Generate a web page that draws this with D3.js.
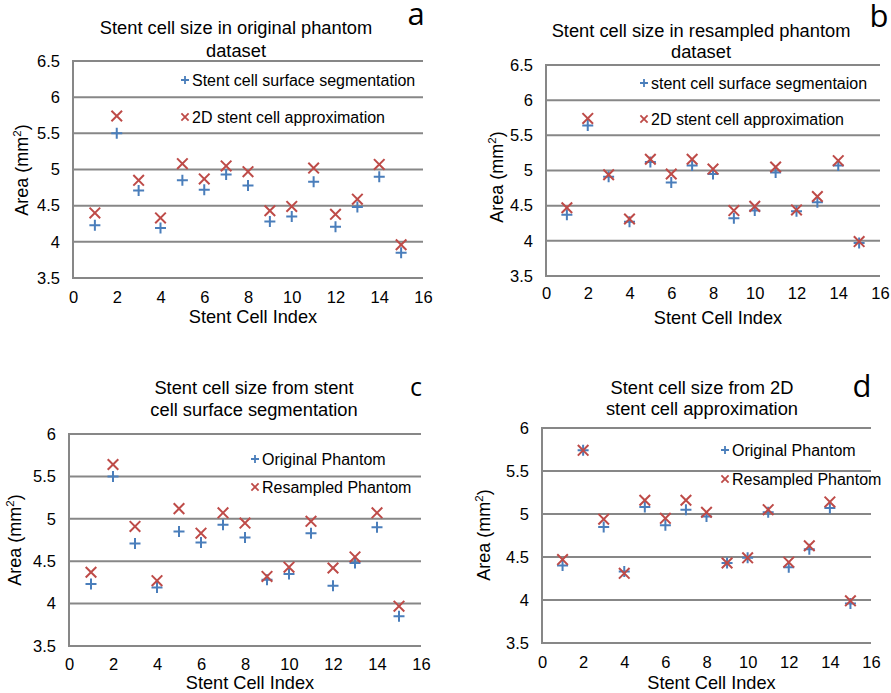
<!DOCTYPE html>
<html>
<head>
<meta charset="utf-8">
<script src="https://cdn.jsdelivr.net/npm/d3@7/dist/d3.min.js"></script>
<style>
  body { margin: 0; background: #fff; }
  svg { display: block; font-family: "Liberation Sans", Arial, sans-serif; }
</style>
</head>
<body>
<svg id="chart" width="891" height="693"></svg>
<script>
// Stent cell index (x values)
const cellIndex = [1, 2, 3, 4, 5, 6, 7, 8, 9, 10, 11, 12, 13, 14, 15];

// Areas (mm²) — original phantom
const origSurfaceSeg = [4.23, 5.50, 4.71, 4.19, 4.85, 4.72, 4.93, 4.78, 4.28, 4.35, 4.83, 4.21, 4.48, 4.90, 3.85];
const origApprox2D   = [4.40, 5.74, 4.85, 4.33, 5.08, 4.87, 5.05, 4.97, 4.43, 4.49, 5.02, 4.38, 4.59, 5.07, 3.96];

// Areas (mm²) — resampled phantom
const resSurfaceSeg  = [4.37, 5.64, 4.91, 4.27, 5.12, 4.83, 5.07, 4.95, 4.32, 4.43, 4.97, 4.42, 4.55, 5.07, 3.97];
const resApprox2D    = [4.47, 5.74, 4.94, 4.31, 5.16, 4.95, 5.16, 5.02, 4.43, 4.49, 5.05, 4.44, 4.63, 5.14, 3.99];

// Axis ticks
const xTicks = [0, 2, 4, 6, 8, 10, 12, 14, 16];
const yTicksTop = [3.5, 4, 4.5, 5, 5.5, 6, 6.5];
const yTicksBottom = [3.5, 4, 4.5, 5, 5.5, 6];

const BLUE = "#4a7ebb";
const RED = "#be4b48";
const GRID = "#878787";

const panels = [
  {
    letter: "a", title: ["Stent cell size in original phantom", "dataset"],
    seriesA: origSurfaceSeg, seriesB: origApprox2D,
    legend: ["Stent cell surface segmentation", "2D stent cell approximation"],
    yTicks: yTicksTop,
    box: { left: 73, right: 423, top: 61, bottom: 278 },
    titlePos: { x: 236, y: [34, 57] }, letterPos: { x: 416, y: 25, size: 31 },
    legendPos: { x: 185, y: [80, 117] },
    yLabelPos: { x: 28, y: 170 }, xLabelY: 323, tickLabelY: 303
  },
  {
    letter: "b", title: ["Stent cell size in resampled phantom", "dataset"],
    seriesA: resSurfaceSeg, seriesB: resApprox2D,
    legend: ["stent cell surface segmentaion", "2D stent cell approximation"],
    yTicks: yTicksTop,
    box: { left: 546, right: 880, top: 65, bottom: 276 },
    titlePos: { x: 701, y: [37, 58] }, letterPos: { x: 879, y: 27, size: 31 },
    legendPos: { x: 644, y: [83, 119] },
    yLabelPos: { x: 503, y: 177 }, xLabelY: 324, tickLabelY: 299
  },
  {
    letter: "c", title: ["Stent cell size from stent", "cell surface segmentation"],
    seriesA: origSurfaceSeg, seriesB: resSurfaceSeg,
    legend: ["Original Phantom", "Resampled Phantom"],
    yTicks: yTicksBottom,
    box: { left: 69, right: 421, top: 434, bottom: 646 },
    titlePos: { x: 254, y: [394, 416] }, letterPos: { x: 416, y: 396, size: 25 },
    legendPos: { x: 255, y: [459, 487] },
    yLabelPos: { x: 21, y: 540 }, xLabelY: 689, tickLabelY: 670
  },
  {
    letter: "d", title: ["Stent cell size from 2D", "stent cell approximation"],
    seriesA: origApprox2D, seriesB: resApprox2D,
    legend: ["Original Phantom", "Resampled Phantom"],
    yTicks: yTicksBottom,
    box: { left: 542, right: 871, top: 428, bottom: 643 },
    titlePos: { x: 702, y: [394, 415] }, letterPos: { x: 862, y: 397, size: 31 },
    legendPos: { x: 725, y: [450, 479] },
    yLabelPos: { x: 490, y: 535 }, xLabelY: 689, tickLabelY: 668
  }
];

const svg = d3.select("#chart");

function plusPath(s) { return `M${-s},0H${s}M0,${-s}V${s}`; }
function crossPath(s) { return `M${-s},${-s}L${s},${s}M${-s},${s}L${s},${-s}`; }

panels.forEach(p => {
  const g = svg.append("g");
  const yMin = p.yTicks[0], yMax = p.yTicks[p.yTicks.length - 1];
  const x = d3.scaleLinear().domain([0, 16]).range([p.box.left, p.box.right]);
  const y = d3.scaleLinear().domain([yMin, yMax]).range([p.box.bottom, p.box.top]);

  // Horizontal gridlines (the lowest one doubles as the x axis line)
  g.append("g").selectAll("line").data(p.yTicks).join("line")
    .attr("x1", p.box.left).attr("x2", p.box.right)
    .attr("y1", d => y(d)).attr("y2", d => y(d))
    .attr("stroke", GRID).attr("stroke-width", 2);

  // Y axis line
  g.append("line")
    .attr("x1", p.box.left).attr("x2", p.box.left)
    .attr("y1", y(yMax) - 1).attr("y2", y(yMin) + 1)
    .attr("stroke", GRID).attr("stroke-width", 2);

  // Y tick labels
  const yAxis = d3.axisLeft(y).tickValues(p.yTicks).tickSize(0).tickPadding(13)
    .tickFormat(d3.format("~g"));
  const ya = g.append("g").attr("transform", `translate(${p.box.left},0)`).call(yAxis);
  ya.select(".domain").remove();
  ya.selectAll("text").attr("font-size", 16.5).attr("fill", "#000")
    .attr("font-family", "'Liberation Sans', Arial, sans-serif");

  // X tick labels
  const xAxis = d3.axisBottom(x).tickValues(xTicks).tickSize(0).tickPadding(0)
    .tickFormat(d3.format("d"));
  const xa = g.append("g").attr("transform", `translate(0,${p.tickLabelY - 12})`).call(xAxis);
  xa.select(".domain").remove();
  xa.selectAll("text").attr("font-size", 16.5).attr("fill", "#000").attr("dy", "0.71em")
    .attr("font-family", "'Liberation Sans', Arial, sans-serif");

  // Titles
  g.append("text").attr("x", p.titlePos.x).attr("y", p.titlePos.y[0])
    .attr("text-anchor", "middle").attr("font-size", 18.3).text(p.title[0]);
  g.append("text").attr("x", p.titlePos.x).attr("y", p.titlePos.y[1])
    .attr("text-anchor", "middle").attr("font-size", 18.3).text(p.title[1]);

  // Panel letter
  g.append("text").attr("x", p.letterPos.x).attr("y", p.letterPos.y)
    .attr("text-anchor", "middle").attr("font-size", p.letterPos.size)
    .attr("font-family", "'Open Sans', 'DejaVu Sans', sans-serif").text(p.letter);

  // Axis titles
  g.append("text").attr("x", (p.box.left + p.box.right) / 2 + 5).attr("y", p.xLabelY)
    .attr("text-anchor", "middle").attr("font-size", 18.2).text("Stent Cell Index");
  const yl = g.append("text")
    .attr("transform", `translate(${p.yLabelPos.x},${p.yLabelPos.y}) rotate(-90)`)
    .attr("text-anchor", "middle").attr("font-size", 18);
  yl.append("tspan").text("Area (mm");
  yl.append("tspan").attr("font-size", 11.5).attr("dy", -7).text("2");
  yl.append("tspan").attr("dy", 7).text(")");

  // Series A: plus markers
  g.append("g").selectAll("path").data(cellIndex).join("path")
    .attr("transform", (d, i) => `translate(${x(d)},${y(p.seriesA[i])})`)
    .attr("d", plusPath(5.5)).attr("stroke", BLUE).attr("stroke-width", 2).attr("fill", "none");

  // Series B: cross markers
  g.append("g").selectAll("path").data(cellIndex).join("path")
    .attr("transform", (d, i) => `translate(${x(d)},${y(p.seriesB[i])})`)
    .attr("d", crossPath(5.3)).attr("stroke", RED).attr("stroke-width", 2).attr("fill", "none");

  // Legend
  const lg = g.append("g");
  lg.append("path").attr("transform", `translate(${p.legendPos.x},${p.legendPos.y[0]})`)
    .attr("d", plusPath(4)).attr("stroke", BLUE).attr("stroke-width", 1.8).attr("fill", "none");
  lg.append("path").attr("transform", `translate(${p.legendPos.x},${p.legendPos.y[1]})`)
    .attr("d", crossPath(3.6)).attr("stroke", RED).attr("stroke-width", 1.8).attr("fill", "none");
  lg.append("text").attr("x", p.legendPos.x + 7).attr("y", p.legendPos.y[0]).attr("dy", "0.36em")
    .attr("font-size", 16).text(p.legend[0]);
  lg.append("text").attr("x", p.legendPos.x + 7).attr("y", p.legendPos.y[1]).attr("dy", "0.36em")
    .attr("font-size", 16).text(p.legend[1]);
});
</script>
</body>
</html>
